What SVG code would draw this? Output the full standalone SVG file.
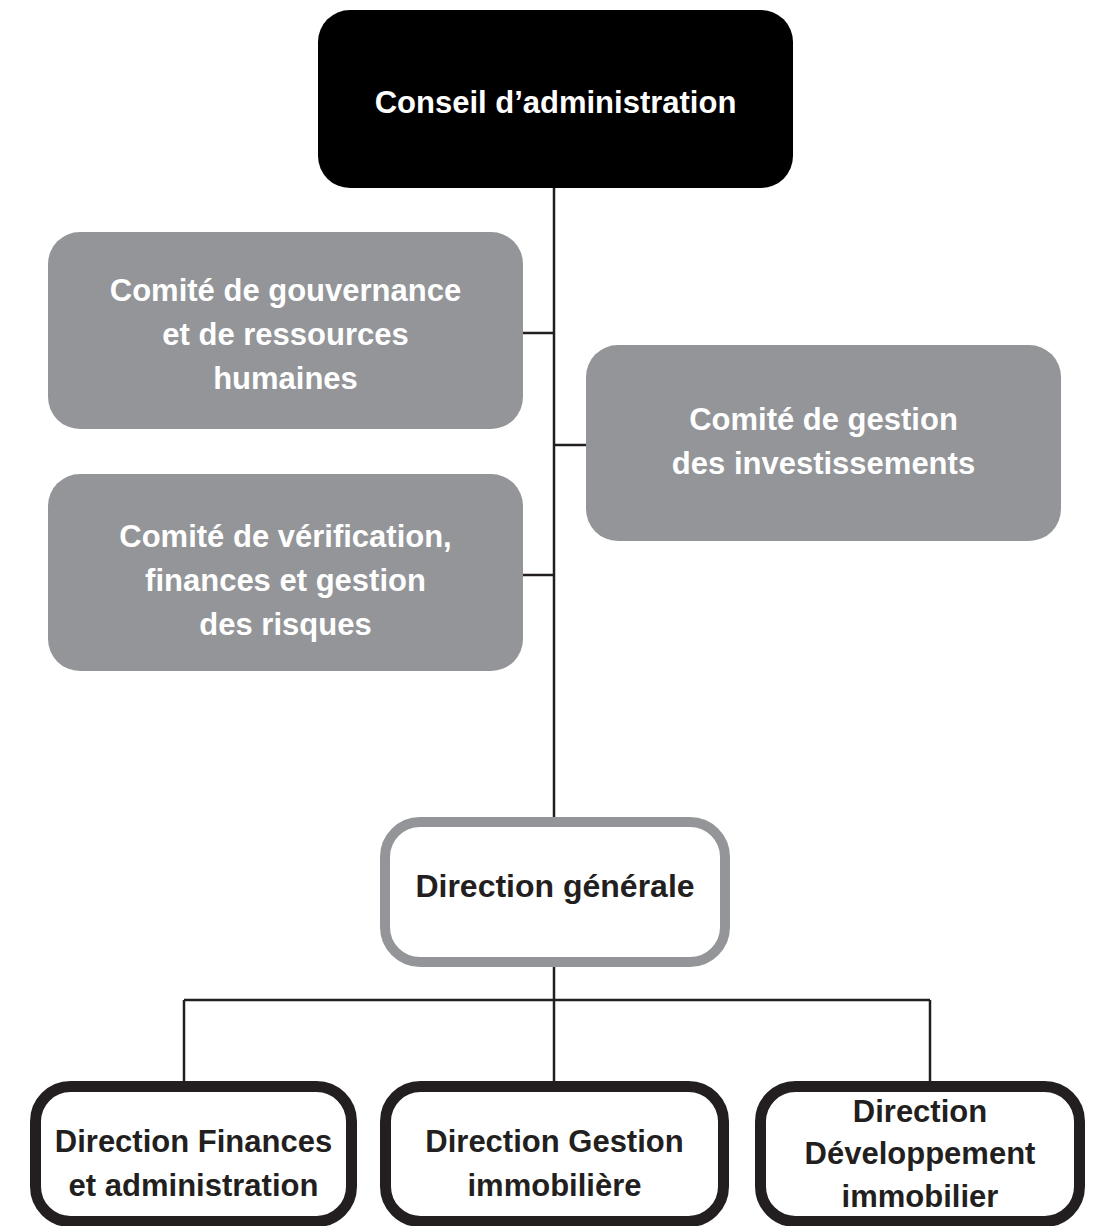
<svg xmlns="http://www.w3.org/2000/svg" width="1096" height="1226" viewBox="0 0 1096 1226">
<style>
text{font-family:"Liberation Sans",Arial,sans-serif;font-weight:bold;font-size:31px;text-anchor:middle}
.w{fill:#ffffff}
.k{fill:#231f20}
.gray{fill:#939598}
.lvl2{fill:#ffffff;stroke:#939598;stroke-width:10}
.lvl3{fill:#ffffff;stroke:#231f20;stroke-width:11}
.c{stroke:#231f20;stroke-width:2.5;fill:none}
</style>
<rect width="1096" height="1226" fill="#ffffff"/>
<g id="connectors">
<line class="c" x1="554" y1="188" x2="554" y2="1000"/>
<line class="c" x1="523" y1="333" x2="554" y2="333"/>
<line class="c" x1="554" y1="445" x2="586" y2="445"/>
<line class="c" x1="523" y1="575" x2="554" y2="575"/>
<line class="c" x1="184" y1="1000" x2="930" y2="1000"/>
<line class="c" x1="184" y1="1000" x2="184" y2="1082"/>
<line class="c" x1="554" y1="1000" x2="554" y2="1082"/>
<line class="c" x1="930" y1="1000" x2="930" y2="1082"/>
</g>
<g id="conseil">
<rect x="318" y="10" width="475" height="178" rx="32" fill="#000000"/>
<text class="w" x="555.5" y="113">Conseil d’administration</text>
</g>
<g id="comite-gouvernance">
<rect class="gray" x="48" y="232" width="475" height="197" rx="32"/>
<text class="w" x="285.5" y="301">Comité de gouvernance</text>
<text class="w" x="285.5" y="345">et de ressources</text>
<text class="w" x="285.5" y="389">humaines</text>
</g>
<g id="comite-verification">
<rect class="gray" x="48" y="474" width="475" height="197" rx="32"/>
<text class="w" x="285.5" y="547">Comité de vérification,</text>
<text class="w" x="285.5" y="591">finances et gestion</text>
<text class="w" x="285.5" y="635">des risques</text>
</g>
<g id="comite-investissements">
<rect class="gray" x="586" y="345" width="475" height="196" rx="32"/>
<text class="w" x="823.5" y="430">Comité de gestion</text>
<text class="w" x="823.5" y="474">des investissements</text>
</g>
<g id="direction-generale">
<rect class="lvl2" x="385" y="822" width="340" height="140" rx="35"/>
<text class="k" x="555" y="897" style="font-size:32px">Direction générale</text>
</g>
<g id="direction-finances">
<rect class="lvl3" x="35.5" y="1086.5" width="316" height="135" rx="35"/>
<text class="k" x="193.5" y="1152">Direction Finances</text>
<text class="k" x="193.5" y="1196">et administration</text>
</g>
<g id="direction-gestion">
<rect class="lvl3" x="385.5" y="1086.5" width="338" height="135" rx="35"/>
<text class="k" x="554.5" y="1152">Direction Gestion</text>
<text class="k" x="554.5" y="1196">immobilière</text>
</g>
<g id="direction-developpement">
<rect class="lvl3" x="760.5" y="1086.5" width="319" height="135" rx="35"/>
<text class="k" x="920" y="1122">Direction</text>
<text class="k" x="920" y="1164">Développement</text>
<text class="k" x="920" y="1207">immobilier</text>
</g>
</svg>
